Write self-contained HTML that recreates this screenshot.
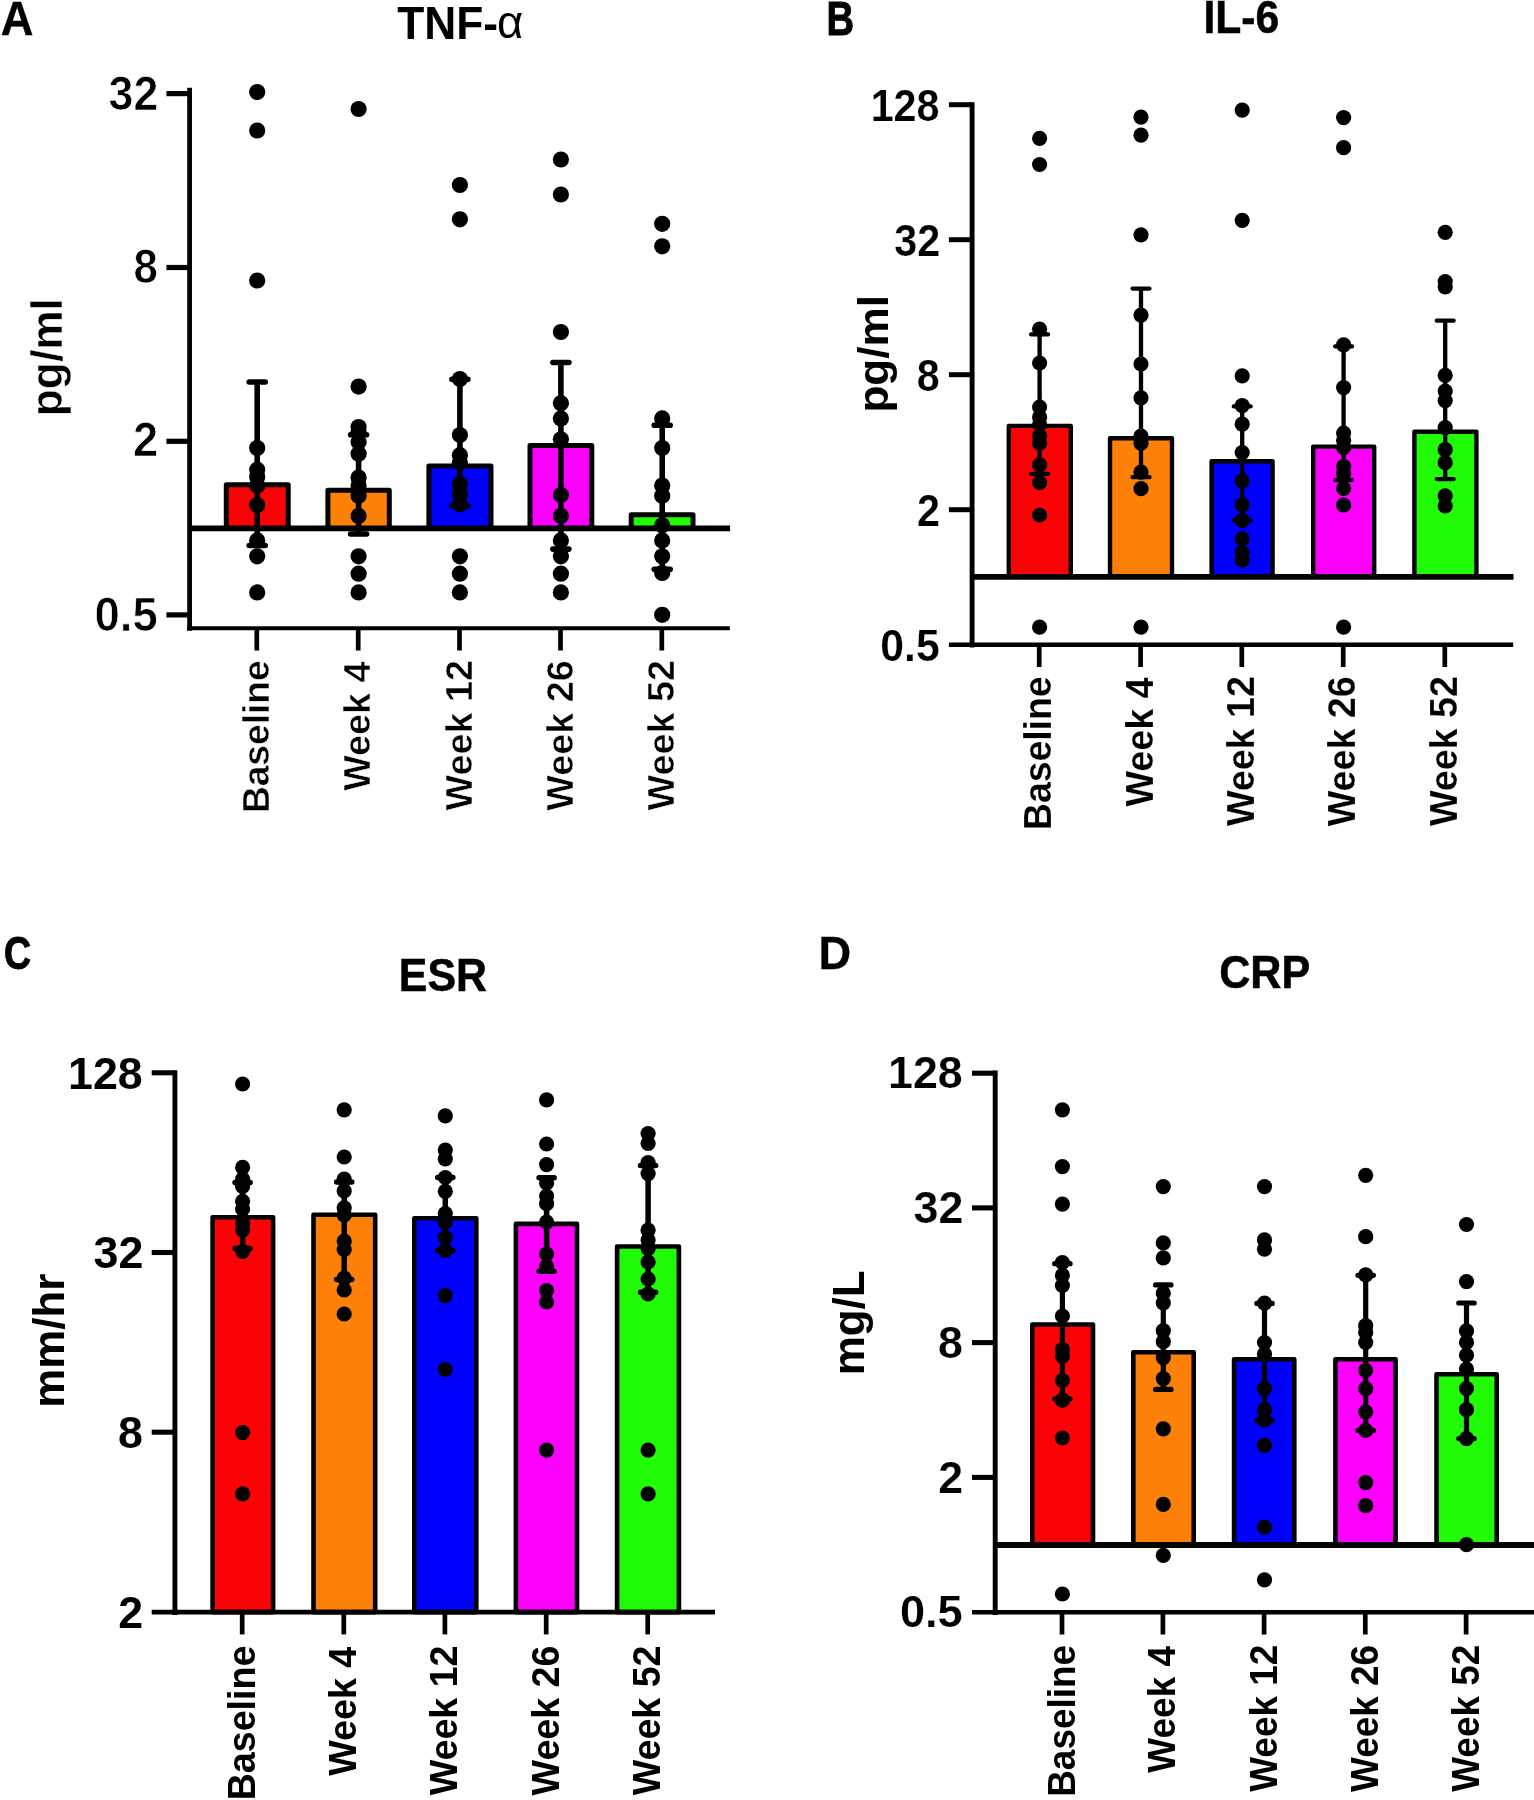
<!DOCTYPE html>
<html lang="en"><head><meta charset="utf-8"><title>Cytokine and inflammatory markers</title>
<style>
html,body{margin:0;padding:0;background:#fff;}
body{width:1534px;height:1800px;overflow:hidden;}
svg{display:block;will-change:transform;}
text{font-family:"Liberation Sans",sans-serif;font-weight:bold;fill:#000;}
.sym{font-family:"Liberation Sans",sans-serif;font-weight:normal;}
</style></head><body>
<svg width="1534" height="1800" viewBox="0 0 1534 1800">
<rect x="0" y="0" width="1534" height="1800" fill="#fff"/>
<g id="panelA">
<rect x="226.3" y="484.7" width="61.9" height="43.7" fill="#fb0207" stroke="#000" stroke-width="5" stroke-linejoin="round"/>
<rect x="327.9" y="490.3" width="61.4" height="38.1" fill="#fd8008" stroke="#000" stroke-width="5" stroke-linejoin="round"/>
<rect x="428.9" y="465.9" width="62.1" height="62.5" fill="#0000fe" stroke="#000" stroke-width="5" stroke-linejoin="round"/>
<rect x="530" y="445.5" width="61.8" height="82.9" fill="#fd00fd" stroke="#000" stroke-width="5" stroke-linejoin="round"/>
<rect x="631.2" y="514.7" width="61.8" height="13.7" fill="#21fb06" stroke="#000" stroke-width="5" stroke-linejoin="round"/>
<g stroke="#000" fill="none" stroke-linecap="butt">
<line x1="189.6" y1="87.8" x2="189.6" y2="630.85" stroke-width="4.8"/>
<line x1="187.2" y1="628.2" x2="729.8" y2="628.2" stroke-width="4.1"/>
<line x1="166.4" y1="93.6" x2="189.6" y2="93.6" stroke-width="5.2"/>
<line x1="166.4" y1="267.5" x2="189.6" y2="267.5" stroke-width="5.2"/>
<line x1="166.4" y1="441.3" x2="189.6" y2="441.3" stroke-width="5.2"/>
<line x1="166.4" y1="614.9" x2="189.6" y2="614.9" stroke-width="5.2"/>
<line x1="256.8" y1="628.2" x2="256.8" y2="650.5" stroke-width="4.7"/>
<line x1="358.2" y1="628.2" x2="358.2" y2="650.5" stroke-width="4.7"/>
<line x1="459.5" y1="628.2" x2="459.5" y2="650.5" stroke-width="4.7"/>
<line x1="560.5" y1="628.2" x2="560.5" y2="650.5" stroke-width="4.7"/>
<line x1="661.8" y1="628.2" x2="661.8" y2="650.5" stroke-width="4.7"/>
<line x1="189.6" y1="528.4" x2="730.1" y2="528.4" stroke-width="5.7"/>
</g>
<g stroke="#000" stroke-width="5.6" fill="none" stroke-linecap="round">
<path d="M249.2 382H265.2M257.2 382V545.5M249.2 545.5H265.2"/>
<path d="M350.6 434.7H366.6M358.6 434.7V534M350.6 534H366.6"/>
<path d="M451.9 379.2H467.9M459.9 379.2V505.8M451.9 505.8H467.9"/>
<path d="M552.9 362.5H568.9M560.9 362.5V549.1M552.9 549.1H568.9"/>
<path d="M654.2 425.3H670.2M662.2 425.3V569.3M654.2 569.3H670.2"/>
</g>
<g fill="#000">
<circle cx="257.2" cy="92" r="8.1"/>
<circle cx="257.2" cy="130.5" r="8.1"/>
<circle cx="257.2" cy="280.5" r="8.1"/>
<circle cx="257.2" cy="448" r="8.1"/>
<circle cx="257.2" cy="469.7" r="8.1"/>
<circle cx="257.2" cy="477" r="8.1"/>
<circle cx="257.2" cy="485.5" r="8.1"/>
<circle cx="257.2" cy="505" r="8.1"/>
<circle cx="257.2" cy="540.4" r="8.1"/>
<circle cx="257.2" cy="556.3" r="8.1"/>
<circle cx="257.2" cy="592.4" r="8.1"/>
<circle cx="358.6" cy="109" r="8.1"/>
<circle cx="358.6" cy="386.6" r="8.1"/>
<circle cx="358.6" cy="427" r="8.1"/>
<circle cx="358.6" cy="431.4" r="8.1"/>
<circle cx="358.6" cy="442" r="8.1"/>
<circle cx="358.6" cy="453.8" r="8.1"/>
<circle cx="358.6" cy="477.6" r="8.1"/>
<circle cx="358.6" cy="485.5" r="8.1"/>
<circle cx="358.6" cy="495.7" r="8.1"/>
<circle cx="358.6" cy="515.9" r="8.1"/>
<circle cx="358.6" cy="556.3" r="8.1"/>
<circle cx="358.6" cy="573.7" r="8.1"/>
<circle cx="358.6" cy="592.4" r="8.1"/>
<circle cx="459.9" cy="185" r="8.1"/>
<circle cx="459.9" cy="219.3" r="8.1"/>
<circle cx="459.9" cy="379" r="8.1"/>
<circle cx="459.9" cy="435" r="8.1"/>
<circle cx="459.9" cy="455.2" r="8.1"/>
<circle cx="459.9" cy="462.4" r="8.1"/>
<circle cx="459.9" cy="484" r="8.1"/>
<circle cx="459.9" cy="494.2" r="8.1"/>
<circle cx="459.9" cy="504.3" r="8.1"/>
<circle cx="459.9" cy="556.3" r="8.1"/>
<circle cx="459.9" cy="573.7" r="8.1"/>
<circle cx="459.9" cy="592.4" r="8.1"/>
<circle cx="560.9" cy="159.5" r="8.1"/>
<circle cx="560.9" cy="194.5" r="8.1"/>
<circle cx="560.9" cy="332" r="8.1"/>
<circle cx="560.9" cy="403.2" r="8.1"/>
<circle cx="560.9" cy="418.4" r="8.1"/>
<circle cx="560.9" cy="439.3" r="8.1"/>
<circle cx="560.9" cy="495" r="8.1"/>
<circle cx="560.9" cy="515.9" r="8.1"/>
<circle cx="560.9" cy="540.4" r="8.1"/>
<circle cx="560.9" cy="556.3" r="8.1"/>
<circle cx="560.9" cy="573.7" r="8.1"/>
<circle cx="560.9" cy="592.4" r="8.1"/>
<circle cx="662.2" cy="223.8" r="8.1"/>
<circle cx="662.2" cy="246.3" r="8.1"/>
<circle cx="662.2" cy="418.4" r="8.1"/>
<circle cx="662.2" cy="448" r="8.1"/>
<circle cx="662.2" cy="485.6" r="8.1"/>
<circle cx="662.2" cy="495.7" r="8.1"/>
<circle cx="662.2" cy="525.3" r="8.1"/>
<circle cx="662.2" cy="540.4" r="8.1"/>
<circle cx="662.2" cy="556.3" r="8.1"/>
<circle cx="662.2" cy="573" r="8.1"/>
<circle cx="662.2" cy="614.8" r="8.1"/>
</g>
<text transform="translate(0.63 35.3) scale(0.9327 1)" font-size="48.55" stroke="#000" stroke-width="0.4" stroke-linejoin="miter">A</text>
<text transform="translate(397.26 38.92) scale(0.9571 1)" font-size="46.3">TNF-</text>
<text transform="translate(497.08 38.44) scale(0.9812 1)" font-size="46.36" class="sym">α</text>
<text transform="translate(62.25 416.23) rotate(-90) scale(0.9884 1)" font-size="44.83" stroke="#fff" stroke-width="0.5" stroke-linejoin="round">pg/ml</text>
<text transform="translate(108.49 109.78) scale(0.9500 1)" font-size="47.19" stroke="#fff" stroke-width="0.7" stroke-linejoin="round">32</text>
<text transform="translate(133.41 283.18) scale(0.9300 1)" font-size="47.19" stroke="#fff" stroke-width="0.7" stroke-linejoin="round">8</text>
<text transform="translate(133.12 456.22) scale(0.9600 1)" font-size="47.19" stroke="#fff" stroke-width="0.7" stroke-linejoin="round">2</text>
<text transform="translate(94.52 630.68) scale(0.9650 1)" font-size="47.19" stroke="#fff" stroke-width="0.7" stroke-linejoin="round">0.5</text>
<text transform="translate(268.85 813.11) rotate(-90) scale(0.9958 1)" font-size="37.3" stroke="#fff" stroke-width="0.5" stroke-linejoin="round">Baseline</text>
<text transform="translate(370.25 790.85) rotate(-90) scale(1.0120 1)" font-size="37.3" stroke="#fff" stroke-width="0.5" stroke-linejoin="round">Week 4</text>
<text transform="translate(471.55 810.48) rotate(-90) scale(1.0120 1)" font-size="37.3" stroke="#fff" stroke-width="0.5" stroke-linejoin="round">Week 12</text>
<text transform="translate(572.55 810.67) rotate(-90) scale(1.0120 1)" font-size="37.3" stroke="#fff" stroke-width="0.5" stroke-linejoin="round">Week 26</text>
<text transform="translate(673.85 810.48) rotate(-90) scale(1.0120 1)" font-size="37.3" stroke="#fff" stroke-width="0.5" stroke-linejoin="round">Week 52</text>
</g>
<g id="panelB">
<rect x="1008.8" y="425.9" width="62" height="151" fill="#fb0207" stroke="#000" stroke-width="4.4" stroke-linejoin="round"/>
<rect x="1110" y="438.2" width="62" height="138.7" fill="#fd8008" stroke="#000" stroke-width="4.4" stroke-linejoin="round"/>
<rect x="1211.6" y="461.3" width="61" height="115.6" fill="#0000fe" stroke="#000" stroke-width="4.4" stroke-linejoin="round"/>
<rect x="1313.2" y="446.6" width="61" height="130.3" fill="#fd00fd" stroke="#000" stroke-width="4.4" stroke-linejoin="round"/>
<rect x="1414.4" y="431.7" width="62" height="145.2" fill="#21fb06" stroke="#000" stroke-width="4.4" stroke-linejoin="round"/>
<g stroke="#000" fill="none" stroke-linecap="butt">
<line x1="972.1" y1="102.2" x2="972.1" y2="647.55" stroke-width="4.9"/>
<line x1="948.9" y1="644.7" x2="1513.2" y2="644.7" stroke-width="4.5"/>
<line x1="948.9" y1="104.7" x2="972.1" y2="104.7" stroke-width="5"/>
<line x1="948.9" y1="239.7" x2="972.1" y2="239.7" stroke-width="5"/>
<line x1="948.9" y1="374.7" x2="972.1" y2="374.7" stroke-width="5"/>
<line x1="948.9" y1="509.7" x2="972.1" y2="509.7" stroke-width="5"/>
<line x1="1039.2" y1="644.7" x2="1039.2" y2="667" stroke-width="4.7"/>
<line x1="1140.6" y1="644.7" x2="1140.6" y2="667" stroke-width="4.7"/>
<line x1="1241.8" y1="644.7" x2="1241.8" y2="667" stroke-width="4.7"/>
<line x1="1343.2" y1="644.7" x2="1343.2" y2="667" stroke-width="4.7"/>
<line x1="1444.8" y1="644.7" x2="1444.8" y2="667" stroke-width="4.7"/>
<line x1="972.1" y1="576.9" x2="1513.5" y2="576.9" stroke-width="5.9"/>
</g>
<g stroke="#000" stroke-width="4.3" fill="none" stroke-linecap="round">
<path d="M1031.15 334.4H1048.05M1039.6 334.4V473.8M1031.15 473.8H1048.05"/>
<path d="M1132.55 288.6H1149.45M1141 288.6V477.2M1132.55 477.2H1149.45"/>
<path d="M1233.75 406.4H1250.65M1242.2 406.4V520.5M1233.75 520.5H1250.65"/>
<path d="M1335.15 346.4H1352.05M1343.6 346.4V480M1335.15 480H1352.05"/>
<path d="M1436.75 320.7H1453.65M1445.2 320.7V479.1M1436.75 479.1H1453.65"/>
</g>
<g fill="#000">
<circle cx="1039.6" cy="138.4" r="7.6"/>
<circle cx="1039.6" cy="164.5" r="7.6"/>
<circle cx="1039.6" cy="329.1" r="7.6"/>
<circle cx="1039.6" cy="363" r="7.6"/>
<circle cx="1039.6" cy="407.1" r="7.6"/>
<circle cx="1039.6" cy="417.2" r="7.6"/>
<circle cx="1039.6" cy="424.4" r="7.6"/>
<circle cx="1039.6" cy="436" r="7.6"/>
<circle cx="1039.6" cy="443.2" r="7.6"/>
<circle cx="1039.6" cy="464.9" r="7.6"/>
<circle cx="1039.6" cy="482.6" r="7.6"/>
<circle cx="1039.6" cy="515" r="7.6"/>
<circle cx="1039.6" cy="627.2" r="7.6"/>
<circle cx="1141" cy="117.1" r="7.6"/>
<circle cx="1141" cy="135.2" r="7.6"/>
<circle cx="1141" cy="234.8" r="7.6"/>
<circle cx="1141" cy="315.2" r="7.6"/>
<circle cx="1141" cy="364" r="7.6"/>
<circle cx="1141" cy="397.8" r="7.6"/>
<circle cx="1141" cy="436" r="7.6"/>
<circle cx="1141" cy="443.2" r="7.6"/>
<circle cx="1141" cy="472.1" r="7.6"/>
<circle cx="1141" cy="488.7" r="7.6"/>
<circle cx="1141" cy="627.2" r="7.6"/>
<circle cx="1242.2" cy="110.1" r="7.6"/>
<circle cx="1242.2" cy="220.3" r="7.6"/>
<circle cx="1242.2" cy="375.8" r="7.6"/>
<circle cx="1242.2" cy="405.6" r="7.6"/>
<circle cx="1242.2" cy="424.2" r="7.6"/>
<circle cx="1242.2" cy="452.6" r="7.6"/>
<circle cx="1242.2" cy="480.8" r="7.6"/>
<circle cx="1242.2" cy="504.8" r="7.6"/>
<circle cx="1242.2" cy="520.3" r="7.6"/>
<circle cx="1242.2" cy="538.8" r="7.6"/>
<circle cx="1242.2" cy="552.6" r="7.6"/>
<circle cx="1242.2" cy="560" r="7.6"/>
<circle cx="1343.6" cy="117.6" r="7.6"/>
<circle cx="1343.6" cy="147.7" r="7.6"/>
<circle cx="1343.6" cy="344.8" r="7.6"/>
<circle cx="1343.6" cy="387.6" r="7.6"/>
<circle cx="1343.6" cy="433.1" r="7.6"/>
<circle cx="1343.6" cy="440.3" r="7.6"/>
<circle cx="1343.6" cy="447.6" r="7.6"/>
<circle cx="1343.6" cy="466.3" r="7.6"/>
<circle cx="1343.6" cy="473.6" r="7.6"/>
<circle cx="1343.6" cy="488.4" r="7.6"/>
<circle cx="1343.6" cy="505.2" r="7.6"/>
<circle cx="1343.6" cy="627.2" r="7.6"/>
<circle cx="1445.2" cy="232.3" r="7.6"/>
<circle cx="1445.2" cy="281.6" r="7.6"/>
<circle cx="1445.2" cy="286.8" r="7.6"/>
<circle cx="1445.2" cy="375.4" r="7.6"/>
<circle cx="1445.2" cy="391" r="7.6"/>
<circle cx="1445.2" cy="400.6" r="7.6"/>
<circle cx="1445.2" cy="427.6" r="7.6"/>
<circle cx="1445.2" cy="449.7" r="7.6"/>
<circle cx="1445.2" cy="462.7" r="7.6"/>
<circle cx="1445.2" cy="495.8" r="7.6"/>
<circle cx="1445.2" cy="505.8" r="7.6"/>
</g>
<text transform="translate(826.42 35) scale(0.8011 1)" font-size="47.68" stroke="#000" stroke-width="1" stroke-linejoin="miter">B</text>
<text transform="translate(1203.38 33.03) scale(0.9349 1)" font-size="45.6" stroke="#000" stroke-width="0.5" stroke-linejoin="miter">IL-6</text>
<text transform="translate(887.8 412.57) rotate(-90) scale(1.0185 1)" font-size="43.31">pg/ml</text>
<text transform="translate(870.64 120.74) scale(0.9480 1)" font-size="43.58" stroke="#fff" stroke-width="0.2" stroke-linejoin="round">128</text>
<text transform="translate(894.19 255.74) scale(0.9480 1)" font-size="43.58" stroke="#fff" stroke-width="0.2" stroke-linejoin="round">32</text>
<text transform="translate(916.71 390.74) scale(0.9480 1)" font-size="43.58" stroke="#fff" stroke-width="0.2" stroke-linejoin="round">8</text>
<text transform="translate(917.12 525.95) scale(0.9480 1)" font-size="43.58" stroke="#fff" stroke-width="0.2" stroke-linejoin="round">2</text>
<text transform="translate(880.31 660.74) scale(0.9800 1)" font-size="43.58" stroke="#fff" stroke-width="0.2" stroke-linejoin="round">0.5</text>
<text transform="translate(1051.2 830.09) rotate(-90) scale(0.9612 1)" font-size="38.88" stroke="#fff" stroke-width="0.2" stroke-linejoin="round">Baseline</text>
<text transform="translate(1152.6 806.51) rotate(-90) scale(0.9680 1)" font-size="38.88" stroke="#fff" stroke-width="0.2" stroke-linejoin="round">Week 4</text>
<text transform="translate(1253.8 826.08) rotate(-90) scale(0.9680 1)" font-size="38.88" stroke="#fff" stroke-width="0.2" stroke-linejoin="round">Week 12</text>
<text transform="translate(1355.2 826.27) rotate(-90) scale(0.9680 1)" font-size="38.88" stroke="#fff" stroke-width="0.2" stroke-linejoin="round">Week 26</text>
<text transform="translate(1456.8 826.08) rotate(-90) scale(0.9680 1)" font-size="38.88" stroke="#fff" stroke-width="0.2" stroke-linejoin="round">Week 52</text>
</g>
<g id="panelC">
<rect x="212.6" y="1217.2" width="60.5" height="394.9" fill="#fb0207" stroke="#000" stroke-width="4.6" stroke-linejoin="round"/>
<rect x="313.5" y="1214.7" width="61.7" height="397.4" fill="#fd8008" stroke="#000" stroke-width="4.6" stroke-linejoin="round"/>
<rect x="414.3" y="1218.2" width="62" height="393.9" fill="#0000fe" stroke="#000" stroke-width="4.6" stroke-linejoin="round"/>
<rect x="515.9" y="1223.9" width="61.1" height="388.2" fill="#fd00fd" stroke="#000" stroke-width="4.6" stroke-linejoin="round"/>
<rect x="617.1" y="1246.5" width="61.8" height="365.6" fill="#21fb06" stroke="#000" stroke-width="4.6" stroke-linejoin="round"/>
<g stroke="#000" fill="none" stroke-linecap="butt">
<line x1="174.9" y1="1070.3" x2="174.9" y2="1615" stroke-width="4.9"/>
<line x1="151.7" y1="1612.1" x2="715" y2="1612.1" stroke-width="4.6"/>
<line x1="151.7" y1="1072.8" x2="174.9" y2="1072.8" stroke-width="5.1"/>
<line x1="151.7" y1="1252.5" x2="174.9" y2="1252.5" stroke-width="5.1"/>
<line x1="151.7" y1="1432.2" x2="174.9" y2="1432.2" stroke-width="5.1"/>
<line x1="242.2" y1="1612.1" x2="242.2" y2="1634.4" stroke-width="4.7"/>
<line x1="343.8" y1="1612.1" x2="343.8" y2="1634.4" stroke-width="4.7"/>
<line x1="444.9" y1="1612.1" x2="444.9" y2="1634.4" stroke-width="4.7"/>
<line x1="546.2" y1="1612.1" x2="546.2" y2="1634.4" stroke-width="4.7"/>
<line x1="647.7" y1="1612.1" x2="647.7" y2="1634.4" stroke-width="4.7"/>
</g>
<g stroke="#000" stroke-width="5.5" fill="none" stroke-linecap="round">
<path d="M235.05 1182.4H250.15M242.6 1182.4V1248.4M235.05 1248.4H250.15"/>
<path d="M336.65 1182H351.75M344.2 1182V1279.5M336.65 1279.5H351.75"/>
<path d="M437.75 1177.6H452.85M445.3 1177.6V1250.4M437.75 1250.4H452.85"/>
<path d="M539.05 1177.8H554.15M546.6 1177.8V1271.3M539.05 1271.3H554.15"/>
<path d="M640.55 1165.5H655.65M648.1 1165.5V1292.2M640.55 1292.2H655.65"/>
</g>
<g fill="#000">
<circle cx="242.6" cy="1084" r="7.6"/>
<circle cx="242.6" cy="1167.4" r="7.6"/>
<circle cx="242.6" cy="1179" r="7.6"/>
<circle cx="242.6" cy="1186.5" r="7.6"/>
<circle cx="242.6" cy="1201.3" r="7.6"/>
<circle cx="242.6" cy="1209" r="7.6"/>
<circle cx="242.6" cy="1223.4" r="7.6"/>
<circle cx="242.6" cy="1230" r="7.6"/>
<circle cx="242.6" cy="1251.5" r="7.6"/>
<circle cx="242.6" cy="1432.6" r="7.6"/>
<circle cx="242.6" cy="1493.9" r="7.6"/>
<circle cx="344.2" cy="1109.8" r="7.6"/>
<circle cx="344.2" cy="1157" r="7.6"/>
<circle cx="344.2" cy="1179.1" r="7.6"/>
<circle cx="344.2" cy="1190.8" r="7.6"/>
<circle cx="344.2" cy="1207.8" r="7.6"/>
<circle cx="344.2" cy="1215" r="7.6"/>
<circle cx="344.2" cy="1241" r="7.6"/>
<circle cx="344.2" cy="1249.5" r="7.6"/>
<circle cx="344.2" cy="1278.2" r="7.6"/>
<circle cx="344.2" cy="1290" r="7.6"/>
<circle cx="344.2" cy="1314" r="7.6"/>
<circle cx="445.3" cy="1115.8" r="7.6"/>
<circle cx="445.3" cy="1150" r="7.6"/>
<circle cx="445.3" cy="1158.8" r="7.6"/>
<circle cx="445.3" cy="1177.5" r="7.6"/>
<circle cx="445.3" cy="1191.3" r="7.6"/>
<circle cx="445.3" cy="1213.6" r="7.6"/>
<circle cx="445.3" cy="1222" r="7.6"/>
<circle cx="445.3" cy="1237.5" r="7.6"/>
<circle cx="445.3" cy="1250.5" r="7.6"/>
<circle cx="445.3" cy="1295.6" r="7.6"/>
<circle cx="445.3" cy="1369.5" r="7.6"/>
<circle cx="546.6" cy="1099.9" r="7.6"/>
<circle cx="546.6" cy="1144" r="7.6"/>
<circle cx="546.6" cy="1164.6" r="7.6"/>
<circle cx="546.6" cy="1183" r="7.6"/>
<circle cx="546.6" cy="1196" r="7.6"/>
<circle cx="546.6" cy="1203.7" r="7.6"/>
<circle cx="546.6" cy="1222" r="7.6"/>
<circle cx="546.6" cy="1254" r="7.6"/>
<circle cx="546.6" cy="1266.4" r="7.6"/>
<circle cx="546.6" cy="1290.6" r="7.6"/>
<circle cx="546.6" cy="1302" r="7.6"/>
<circle cx="546.6" cy="1450.1" r="7.6"/>
<circle cx="648.1" cy="1133.6" r="7.6"/>
<circle cx="648.1" cy="1143.5" r="7.6"/>
<circle cx="648.1" cy="1162.7" r="7.6"/>
<circle cx="648.1" cy="1173.6" r="7.6"/>
<circle cx="648.1" cy="1230.2" r="7.6"/>
<circle cx="648.1" cy="1240" r="7.6"/>
<circle cx="648.1" cy="1248.6" r="7.6"/>
<circle cx="648.1" cy="1262" r="7.6"/>
<circle cx="648.1" cy="1279" r="7.6"/>
<circle cx="648.1" cy="1294" r="7.6"/>
<circle cx="648.1" cy="1450.1" r="7.6"/>
<circle cx="648.1" cy="1493.9" r="7.6"/>
</g>
<text transform="translate(4 968.94) scale(0.8121 1)" font-size="46.06" stroke="#000" stroke-width="1" stroke-linejoin="miter">C</text>
<text transform="translate(398.86 991.43) scale(0.9409 1)" font-size="45.6" stroke="#000" stroke-width="0.5" stroke-linejoin="miter">ESR</text>
<text transform="translate(63.9 1407.86) rotate(-90) scale(0.9831 1)" font-size="44.69">mm/hr</text>
<text transform="translate(68.01 1088.59) scale(0.9900 1)" font-size="45.2">128</text>
<text transform="translate(93.52 1268.29) scale(0.9900 1)" font-size="45.2">32</text>
<text transform="translate(117.91 1447.99) scale(0.9900 1)" font-size="45.2">8</text>
<text transform="translate(118.35 1628.12) scale(0.9900 1)" font-size="45.2">2</text>
<text transform="translate(254.5 1800.3) rotate(-90) scale(0.9690 1)" font-size="38.8">Baseline</text>
<text transform="translate(356.1 1775.67) rotate(-90) scale(0.9690 1)" font-size="38.8">Week 4</text>
<text transform="translate(457.2 1795.22) rotate(-90) scale(0.9690 1)" font-size="38.8">Week 12</text>
<text transform="translate(558.5 1795.41) rotate(-90) scale(0.9690 1)" font-size="38.8">Week 26</text>
<text transform="translate(660 1795.22) rotate(-90) scale(0.9690 1)" font-size="38.8">Week 52</text>
</g>
<g id="panelD">
<rect x="1032.3" y="1324.5" width="60.7" height="220.5" fill="#fb0207" stroke="#000" stroke-width="4.6" stroke-linejoin="round"/>
<rect x="1133.3" y="1352.3" width="60.4" height="192.7" fill="#fd8008" stroke="#000" stroke-width="4.6" stroke-linejoin="round"/>
<rect x="1234.1" y="1359.2" width="60.2" height="185.8" fill="#0000fe" stroke="#000" stroke-width="4.6" stroke-linejoin="round"/>
<rect x="1335.4" y="1359.2" width="60.2" height="185.8" fill="#fd00fd" stroke="#000" stroke-width="4.6" stroke-linejoin="round"/>
<rect x="1436.5" y="1374.2" width="60.2" height="170.8" fill="#21fb06" stroke="#000" stroke-width="4.6" stroke-linejoin="round"/>
<g stroke="#000" fill="none" stroke-linecap="butt">
<line x1="995.2" y1="1070.6" x2="995.2" y2="1615.1" stroke-width="4.9"/>
<line x1="972" y1="1612.2" x2="1536" y2="1612.2" stroke-width="4.6"/>
<line x1="972" y1="1073.2" x2="995.2" y2="1073.2" stroke-width="5.1"/>
<line x1="972" y1="1207.9" x2="995.2" y2="1207.9" stroke-width="5.1"/>
<line x1="972" y1="1342.6" x2="995.2" y2="1342.6" stroke-width="5.1"/>
<line x1="972" y1="1477.4" x2="995.2" y2="1477.4" stroke-width="5.1"/>
<line x1="1062" y1="1612.2" x2="1062" y2="1634.5" stroke-width="4.7"/>
<line x1="1162.9" y1="1612.2" x2="1162.9" y2="1634.5" stroke-width="4.7"/>
<line x1="1264.1" y1="1612.2" x2="1264.1" y2="1634.5" stroke-width="4.7"/>
<line x1="1365.3" y1="1612.2" x2="1365.3" y2="1634.5" stroke-width="4.7"/>
<line x1="1466.1" y1="1612.2" x2="1466.1" y2="1634.5" stroke-width="4.7"/>
<line x1="995.2" y1="1545" x2="1536.3" y2="1545" stroke-width="5.8"/>
</g>
<g stroke="#000" stroke-width="5.2" fill="none" stroke-linecap="round">
<path d="M1054.7 1263.7H1070.1M1062.4 1263.7V1398.8M1054.7 1398.8H1070.1"/>
<path d="M1155.6 1284.9H1171M1163.3 1284.9V1389.4M1155.6 1389.4H1171"/>
<path d="M1256.8 1303.4H1272.2M1264.5 1303.4V1420.4M1256.8 1420.4H1272.2"/>
<path d="M1358 1275.3H1373.4M1365.7 1275.3V1430.4M1358 1430.4H1373.4"/>
<path d="M1458.8 1303H1474.2M1466.5 1303V1438.6M1458.8 1438.6H1474.2"/>
</g>
<g fill="#000">
<circle cx="1062.4" cy="1109.8" r="7.6"/>
<circle cx="1062.4" cy="1166.6" r="7.6"/>
<circle cx="1062.4" cy="1204.1" r="7.6"/>
<circle cx="1062.4" cy="1262.5" r="7.6"/>
<circle cx="1062.4" cy="1275.4" r="7.6"/>
<circle cx="1062.4" cy="1285.5" r="7.6"/>
<circle cx="1062.4" cy="1316" r="7.6"/>
<circle cx="1062.4" cy="1349.7" r="7.6"/>
<circle cx="1062.4" cy="1356.2" r="7.6"/>
<circle cx="1062.4" cy="1380.5" r="7.6"/>
<circle cx="1062.4" cy="1400.2" r="7.6"/>
<circle cx="1062.4" cy="1438" r="7.6"/>
<circle cx="1062.4" cy="1594" r="7.6"/>
<circle cx="1163.3" cy="1186.6" r="7.6"/>
<circle cx="1163.3" cy="1242.9" r="7.6"/>
<circle cx="1163.3" cy="1257.9" r="7.6"/>
<circle cx="1163.3" cy="1293.2" r="7.6"/>
<circle cx="1163.3" cy="1302.8" r="7.6"/>
<circle cx="1163.3" cy="1330.7" r="7.6"/>
<circle cx="1163.3" cy="1341.7" r="7.6"/>
<circle cx="1163.3" cy="1357.6" r="7.6"/>
<circle cx="1163.3" cy="1378.6" r="7.6"/>
<circle cx="1163.3" cy="1428.8" r="7.6"/>
<circle cx="1163.3" cy="1504.4" r="7.6"/>
<circle cx="1163.3" cy="1555.3" r="7.6"/>
<circle cx="1264.5" cy="1186.6" r="7.6"/>
<circle cx="1264.5" cy="1239.9" r="7.6"/>
<circle cx="1264.5" cy="1249.2" r="7.6"/>
<circle cx="1264.5" cy="1303.2" r="7.6"/>
<circle cx="1264.5" cy="1342.5" r="7.6"/>
<circle cx="1264.5" cy="1354" r="7.6"/>
<circle cx="1264.5" cy="1388.5" r="7.6"/>
<circle cx="1264.5" cy="1409.8" r="7.6"/>
<circle cx="1264.5" cy="1420.2" r="7.6"/>
<circle cx="1264.5" cy="1445.4" r="7.6"/>
<circle cx="1264.5" cy="1527.2" r="7.6"/>
<circle cx="1264.5" cy="1579.8" r="7.6"/>
<circle cx="1365.7" cy="1175.3" r="7.6"/>
<circle cx="1365.7" cy="1236.7" r="7.6"/>
<circle cx="1365.7" cy="1274.9" r="7.6"/>
<circle cx="1365.7" cy="1325.7" r="7.6"/>
<circle cx="1365.7" cy="1332.4" r="7.6"/>
<circle cx="1365.7" cy="1342.5" r="7.6"/>
<circle cx="1365.7" cy="1370.4" r="7.6"/>
<circle cx="1365.7" cy="1388.7" r="7.6"/>
<circle cx="1365.7" cy="1412" r="7.6"/>
<circle cx="1365.7" cy="1430.4" r="7.6"/>
<circle cx="1365.7" cy="1482.6" r="7.6"/>
<circle cx="1365.7" cy="1505.7" r="7.6"/>
<circle cx="1466.5" cy="1224.5" r="7.6"/>
<circle cx="1466.5" cy="1281.6" r="7.6"/>
<circle cx="1466.5" cy="1330.9" r="7.6"/>
<circle cx="1466.5" cy="1342.4" r="7.6"/>
<circle cx="1466.5" cy="1355.2" r="7.6"/>
<circle cx="1466.5" cy="1369" r="7.6"/>
<circle cx="1466.5" cy="1388.6" r="7.6"/>
<circle cx="1466.5" cy="1409.7" r="7.6"/>
<circle cx="1466.5" cy="1438.6" r="7.6"/>
<circle cx="1466.5" cy="1544.7" r="7.6"/>
</g>
<text transform="translate(818.61 969.05) scale(0.9686 1)" font-size="46.67" stroke="#000" stroke-width="0.3" stroke-linejoin="miter">D</text>
<text transform="translate(1219.22 988.08) scale(0.9462 1)" font-size="45.6" stroke="#000" stroke-width="0.5" stroke-linejoin="miter">CRP</text>
<text transform="translate(864.1 1375.36) rotate(-90) scale(0.9909 1)" font-size="44.41">mg/L</text>
<text transform="translate(888.04 1088.49) scale(0.9900 1)" font-size="45.18" stroke="#fff" stroke-width="0.2" stroke-linejoin="round">128</text>
<text transform="translate(913.54 1223.19) scale(0.9900 1)" font-size="45.18" stroke="#fff" stroke-width="0.2" stroke-linejoin="round">32</text>
<text transform="translate(937.92 1357.89) scale(0.9900 1)" font-size="45.18" stroke="#fff" stroke-width="0.2" stroke-linejoin="round">8</text>
<text transform="translate(938.36 1492.91) scale(0.9900 1)" font-size="45.18" stroke="#fff" stroke-width="0.2" stroke-linejoin="round">2</text>
<text transform="translate(899.95 1627.49) scale(1.0000 1)" font-size="45.18" stroke="#fff" stroke-width="0.2" stroke-linejoin="round">0.5</text>
<text transform="translate(1074.5 1796.86) rotate(-90) scale(0.9530 1)" font-size="38.8">Baseline</text>
<text transform="translate(1175.4 1772.64) rotate(-90) scale(0.9530 1)" font-size="38.8">Week 4</text>
<text transform="translate(1276.6 1791.87) rotate(-90) scale(0.9530 1)" font-size="38.8">Week 12</text>
<text transform="translate(1377.8 1792.06) rotate(-90) scale(0.9530 1)" font-size="38.8">Week 26</text>
<text transform="translate(1478.6 1791.87) rotate(-90) scale(0.9530 1)" font-size="38.8">Week 52</text>
</g>
</svg></body></html>
